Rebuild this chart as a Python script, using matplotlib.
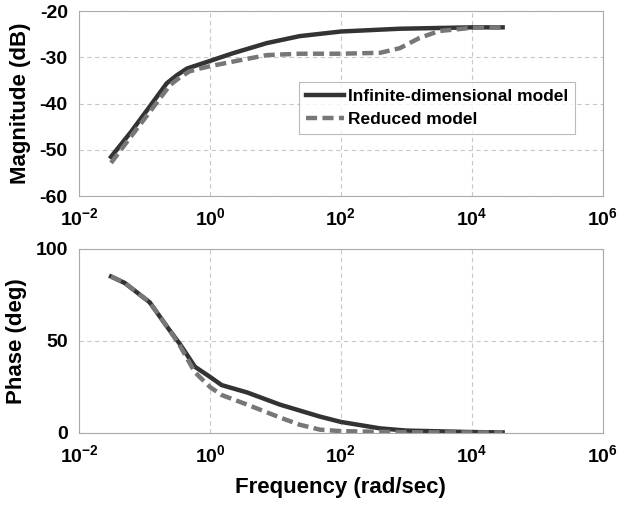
import numpy as np
import matplotlib
matplotlib.use("Agg")
import matplotlib.pyplot as plt

plt.rcParams['font.family'] = 'Liberation Sans'
plt.rcParams['font.weight'] = 'bold'
plt.rcParams['axes.unicode_minus'] = False
plt.rcParams['mathtext.fontset'] = 'custom'
plt.rcParams['mathtext.rm'] = 'Liberation Sans:bold'
plt.rcParams['mathtext.bf'] = 'Liberation Sans:bold'
plt.rcParams['mathtext.default'] = 'bf'

# log10 of frequency (rad/sec)
mag_logw_full = [-1.51, -1.2, -0.96, -0.66, -0.5, -0.35, -0.2, -0.05, 0.35, 0.87, 1.37, 2.0, 2.9, 4.0, 4.47]
mag_full = [-51.5, -46.0, -41.4, -35.6, -33.8, -32.4, -31.7, -31.0, -29.1, -26.9, -25.4, -24.4, -23.8, -23.5, -23.5]
mag_logw_red = [-1.51, -1.2, -0.92, -0.61, -0.45, -0.31, -0.15, 0.0, 0.46, 0.87, 1.37, 2.0, 2.6, 2.9, 3.2, 3.5, 4.0, 4.47]
mag_red = [-52.8, -47.0, -41.8, -36.0, -34.2, -33.0, -32.4, -31.9, -30.6, -29.5, -29.2, -29.2, -29.0, -28.0, -25.8, -24.3, -23.6, -23.5]

ph_logw_full = [-1.51, -1.3, -0.92, -0.64, -0.46, -0.23, 0.0, 0.18, 0.57, 1.07, 1.68, 2.0, 2.6, 3.0, 4.0, 4.47]
ph_full = [85, 81.5, 71, 57, 48.4, 36, 30.5, 26, 22, 15.4, 8.9, 6.0, 2.5, 1.3, 0.5, 0.3]
ph_logw_red = [-1.51, -1.3, -0.92, -0.64, -0.46, -0.23, 0.0, 0.18, 0.57, 1.07, 1.37, 1.68, 2.0, 3.0, 4.0, 4.47]
ph_red = [85, 81.5, 71, 57, 47.5, 33, 25, 20.6, 15.4, 8.4, 4.5, 1.8, 1.0, 0.4, 0.3, 0.3]

xticks = [1e-2, 1e0, 1e2, 1e4, 1e6]
xticklabels = [r'$10^{-2}$', r'$10^{0}$', r'$10^{2}$', r'$10^{4}$', r'$10^{6}$']

c_full = '#333333'
c_red = '#777777'

fig = plt.figure(figsize=(6.17, 5.07), dpi=100)
ax1 = fig.add_axes([0.128, 0.613, 0.849, 0.365])
ax2 = fig.add_axes([0.128, 0.146, 0.849, 0.363])

ax1.plot(10 ** np.array(mag_logw_full), mag_full, color=c_full, lw=3.2, label='Infinite-dimensional model')
ax1.plot(10 ** np.array(mag_logw_red), mag_red, color=c_red, lw=3.2, ls=(0, (2.5, 1.2)), label='Reduced model')
ax1.set_ylim(-60, -20)
ax1.set_yticks([-60, -50, -40, -30, -20])
ax1.set_ylabel('Magnitude (dB)', fontsize=16, fontweight='bold', labelpad=6)
leg = ax1.legend(loc='upper left', bbox_to_anchor=(0.42, 0.615), fontsize=12.5, frameon=True,
                 fancybox=False, edgecolor='#aaaaaa', handlelength=2.2, handletextpad=0.2,
                 borderpad=0.4, labelspacing=0.4, borderaxespad=0)
leg.get_frame().set_linewidth(0.8)

ax2.plot(10 ** np.array(ph_logw_full), ph_full, color=c_full, lw=3.2)
ax2.plot(10 ** np.array(ph_logw_red), ph_red, color=c_red, lw=3.2, ls=(0, (2.5, 1.2)))
ax2.set_ylim(0, 100)
ax2.set_yticks([0, 50, 100])
ax2.set_ylabel('Phase (deg)', fontsize=16, fontweight='bold', labelpad=6)
ax2.set_xlabel('Frequency (rad/sec)', fontsize=16, fontweight='bold', labelpad=8)

for ax in (ax1, ax2):
    ax.set_xscale('log')
    ax.set_xlim(1e-2, 1e6)
    ax.set_xticks(xticks)
    ax.set_xticklabels(xticklabels)
    ax.minorticks_off()
    ax.tick_params(length=0, labelsize=14, pad=8)
    ax.grid(True, ls=(0, (4, 3)), color='#c8c8c8', lw=0.8)
    for s in ax.spines.values():
        s.set_color('#aaaaaa')
        s.set_linewidth(0.8)
    for lab in ax.get_yticklabels():
        lab.set_fontweight('bold')

fig.savefig('out.png', dpi=100)
